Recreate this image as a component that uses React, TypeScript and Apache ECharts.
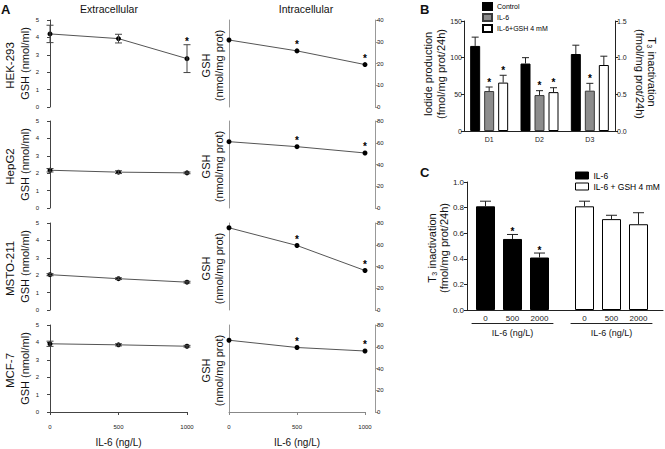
import React, { useEffect, useRef } from "react";
import * as echarts from "echarts";

const FONT = "'Liberation Sans', Arial, Helvetica, sans-serif";

// ---------- Panel A ----------
const doses = [0, 500, 1000];
const cellLines = ["HEK-293", "HepG2", "MSTO-211", "MCF-7"];
const hekExtra = [4.2, 3.93, 2.78];
const hekExtraErr = [0.5, 0.25, 0.8];
const hepExtra = [2.17, 2.06, 2.02];
const hepExtraErr = [0.1, 0.08, 0.05];
const mstoExtra = [2.03, 1.8, 1.6];
const mstoExtraErr = [0.06, 0.05, 0.05];
const mcfExtra = [3.92, 3.86, 3.78];
const mcfExtraErr = [0.15, 0.06, 0.05];
const hekExtraStars = [0, 0, 1];
const noStars = [0, 0, 0];
const hekIntra = [30.8, 25.8, 19.5];
const hepIntra = [61, 56.4, 50.6];
const mstoIntra = [75.6, 59.3, 36.3];
const mcfIntra = [66, 59.3, 56.1];
const intraStars = [0, 1, 1];
const extraMax = 5;
const intraMax = [40, 80, 80, 80];
const intraStep = [10, 20, 20, 20];

// ---------- Panel B ----------
const bCategories = ["D1", "D2", "D3"];
const bNames = ["Control", "IL-6", "IL-6+GSH 4 mM"];
const bControl = [116, 92];
const bControlErr = [12, 8];
const bIL6 = [54.5, 49];
const bIL6Err = [5.5, 6];
const bGSH = [66, 53];
const bGSHErr = [10, 6];
const bStarsD1D2 = [[0, 0], [1, 1], [1, 1]];
const bD3 = [1.05, 0.55, 0.9];
const bD3Err = [0.12, 0.1, 0.12];
const bStarsD3 = [0, 1, 0];

// ---------- Panel C ----------
const cDoses = ["0", "500", "2000"];
const cIL6 = [0.81, 0.555, 0.41];
const cIL6Err = [0.04, 0.035, 0.035];
const cIL6Stars = [0, 1, 1];
const cGSH = [0.81, 0.71, 0.67];
const cGSHErr = [0.04, 0.03, 0.09];
const cGSHStars = [0, 0, 0];

// layout
const rowTops = [20, 121, 223, 325];
const rowH = 87;
const bBarW = 10;
const bBarGap = 4;

const bFill = ["#000000", "#8c8c8c", "#ffffff"];
const bBorder = ["#000000", "#3a3a3a", "#000000"];

function errSeries(xi: number, yi: number, data: any[], o: { cap: number; up: boolean; dx: number; starGap: number; color: string }) {
  return {
    type: "custom",
    xAxisIndex: xi,
    yAxisIndex: yi,
    silent: true,
    z: 5,
    renderItem: (params: any, api: any) => {
      const xv = api.value(0);
      const v = api.value(1);
      const e = api.value(2);
      const s = api.value(3);
      const c = api.coord([xv, v]);
      const x = c[0] + o.dx;
      const hi = api.coord([xv, v + e])[1];
      const lo = o.up ? c[1] : api.coord([xv, v - e])[1];
      const st = { stroke: o.color, lineWidth: 1 };
      const ch: any[] = [];
      if (e > 0) {
        ch.push({ type: "line", shape: { x1: x, y1: hi, x2: x, y2: lo }, style: st });
        ch.push({ type: "line", shape: { x1: x - o.cap, y1: hi, x2: x + o.cap, y2: hi }, style: st });
        if (!o.up) ch.push({ type: "line", shape: { x1: x - o.cap, y1: lo, x2: x + o.cap, y2: lo }, style: st });
      }
      if (s) {
        ch.push({
          type: "text",
          x: x,
          y: hi - o.starGap,
          style: { text: "*", fill: "#000", fontSize: 10, fontWeight: "bold", fontFamily: FONT, textAlign: "center", textVerticalAlign: "middle" },
        });
      }
      return { type: "group", children: ch };
    },
    data,
  };
}

function txt(x: number, y: number, text: string, size: number, rot = 0, extra: any = {}) {
  return {
    type: "text",
    x,
    y,
    rotation: rot,
    silent: true,
    style: { text, fill: "#111", fontSize: size, fontFamily: FONT, textAlign: "center", textVerticalAlign: "middle", ...extra },
  };
}

const plain = (v: number) => String(v);

function buildOption() {
  const grid: any[] = [];
  const xAxis: any[] = [];
  const yAxis: any[] = [];
  const series: any[] = [];
  const graphic: any[] = [];
  const lbl = (size: number, extra: any = {}) => ({ fontSize: size, color: "#222", fontFamily: FONT, ...extra });

  const extraVals = [hekExtra, hepExtra, mstoExtra, mcfExtra];
  const extraErrs = [hekExtraErr, hepExtraErr, mstoExtraErr, mcfExtraErr];
  const extraStars = [hekExtraStars, noStars, noStars, noStars];
  const intraVals = [hekIntra, hepIntra, mstoIntra, mcfIntra];

  for (let i = 0; i < 4; i++) grid.push({ left: 50, top: rowTops[i], width: 137, height: rowH });
  for (let i = 0; i < 4; i++) grid.push({ left: 229, top: rowTops[i], width: 136, height: rowH });
  grid.push({ left: 464, top: 21, width: 151, height: 110 }); // 8 : B
  grid.push({ left: 467, top: 182, width: 196, height: 128 }); // 9 : C frame
  grid.push({ left: 472, top: 182, width: 81, height: 128 }); // 10 : C IL-6
  grid.push({ left: 571, top: 182, width: 81, height: 128 }); // 11 : C GSH

  const doseAxis = (gi: number, show: boolean, color: string) => ({
    type: "value",
    gridIndex: gi,
    min: 0,
    max: 1000,
    interval: 500,
    show,
    position: "bottom",
    offset: 9,
    axisLine: { show: true, lineStyle: { color, width: 1 } },
    axisTick: { show: true, length: 3, lineStyle: { color } },
    axisLabel: { ...lbl(6), margin: 3, formatter: plain },
    splitLine: { show: false },
    name: show ? "IL-6 (ng/L)" : "",
    nameLocation: "middle",
    nameGap: 16,
    nameTextStyle: { fontSize: 10, color: "#111", fontFamily: FONT },
  });
  // x axes 0..7
  for (let i = 0; i < 4; i++) xAxis.push(doseAxis(i, i === 3, "#444"));
  for (let i = 0; i < 4; i++) xAxis.push(doseAxis(4 + i, i === 3, "#888"));
  // x axis 8: B categories
  xAxis.push({
    type: "category",
    gridIndex: 8,
    data: bCategories,
    position: "bottom",
    axisLine: { show: true, lineStyle: { color: "#222" } },
    axisTick: { show: false },
    axisLabel: { ...lbl(7), margin: 5 },
    splitLine: { show: true, interval: (i: number) => i === 2, lineStyle: { color: "#999", type: [1, 2], width: 1 } },
  });
  // x axis 9: B hidden (D3 on right scale)
  xAxis.push({ type: "category", gridIndex: 8, data: bCategories, position: "bottom", show: false });
  // x axis 10: C frame baseline
  xAxis.push({
    type: "value", gridIndex: 9, min: 0, max: 1, position: "bottom",
    axisLine: { show: true, lineStyle: { color: "#222" } },
    axisTick: { show: false }, axisLabel: { show: false }, splitLine: { show: false },
  });
  const cCatAxis = (gi: number) => ({
    type: "category", gridIndex: gi, data: cDoses, position: "bottom",
    axisLine: { show: false }, axisTick: { show: false },
    axisLabel: { ...lbl(8), margin: 4 }, splitLine: { show: false },
  });
  const cUnderAxis = (gi: number) => ({
    type: "category", gridIndex: gi, data: cDoses, position: "bottom", offset: 13,
    axisLine: { show: true, lineStyle: { color: "#222" } }, axisTick: { show: false },
    axisLabel: { show: false }, splitLine: { show: false },
    name: "IL-6 (ng/L)", nameLocation: "middle", nameGap: 5,
    nameTextStyle: { fontSize: 9, color: "#111", fontFamily: FONT, verticalAlign: "top" },
  });
  xAxis.push(cCatAxis(10)); // 11
  xAxis.push(cUnderAxis(10)); // 12
  xAxis.push(cCatAxis(11)); // 13
  xAxis.push(cUnderAxis(11)); // 14

  // y axes 0..3 extracellular
  for (let i = 0; i < 4; i++)
    yAxis.push({
      type: "value", gridIndex: i, min: 0, max: extraMax, interval: 1, offset: 9, position: "left",
      axisLine: { show: true, lineStyle: { color: "#444" } },
      axisTick: { show: true, length: 3, lineStyle: { color: "#444" } },
      axisLabel: { ...lbl(6), margin: 2 }, splitLine: { show: false },
    });
  // y axes 4..7 intracellular left line
  for (let i = 0; i < 4; i++)
    yAxis.push({
      type: "value", gridIndex: 4 + i, min: 0, max: intraMax[i], interval: intraStep[i], position: "left",
      axisLine: { show: true, lineStyle: { color: "#999" } },
      axisTick: { show: false }, axisLabel: { show: false }, splitLine: { show: false },
    });
  // y axes 8..11 intracellular right scale
  for (let i = 0; i < 4; i++)
    yAxis.push({
      type: "value", gridIndex: 4 + i, min: 0, max: intraMax[i], interval: intraStep[i], position: "right", offset: 10,
      axisLine: { show: true, lineStyle: { color: "#999" } },
      axisTick: { show: true, length: 3, lineStyle: { color: "#999" } },
      axisLabel: { ...lbl(6), margin: 2 }, splitLine: { show: false },
    });
  // 12: B left
  yAxis.push({
    type: "value", gridIndex: 8, min: 0, max: 150, interval: 50, position: "left",
    axisLine: { show: true, lineStyle: { color: "#222" } },
    axisTick: { show: true, length: 3, lineStyle: { color: "#222" } },
    axisLabel: { ...lbl(7), margin: 2 }, splitLine: { show: false },
  });
  // 13: B right
  yAxis.push({
    type: "value", gridIndex: 8, min: 0, max: 1.5, interval: 0.5, position: "right",
    axisLine: { show: true, lineStyle: { color: "#222" } },
    axisTick: { show: true, length: 3, lineStyle: { color: "#222" } },
    axisLabel: { ...lbl(7), margin: 2, formatter: (v: number) => v.toFixed(1) }, splitLine: { show: false },
  });
  // 14: C frame
  yAxis.push({
    type: "value", gridIndex: 9, min: 0, max: 1, interval: 0.2, position: "left",
    axisLine: { show: true, lineStyle: { color: "#222" } },
    axisTick: { show: true, length: 3, lineStyle: { color: "#222" } },
    axisLabel: { ...lbl(8), margin: 3, formatter: (v: number) => v.toFixed(1) }, splitLine: { show: false },
  });
  // 15, 16: C bars hidden
  yAxis.push({ type: "value", gridIndex: 10, min: 0, max: 1, show: false });
  yAxis.push({ type: "value", gridIndex: 11, min: 0, max: 1, show: false });

  // ---- A series ----
  for (let i = 0; i < 4; i++) {
    series.push({
      type: "line", xAxisIndex: i, yAxisIndex: i, z: 3,
      data: doses.map((d, j) => [d, extraVals[i][j]]),
      symbol: "circle", symbolSize: 5, itemStyle: { color: "#000" },
      lineStyle: { color: "#555", width: 1 },
    });
    series.push(
      errSeries(i, i, doses.map((d, j) => [d, extraVals[i][j], extraErrs[i][j], extraStars[i][j]]),
        { cap: 3.5, up: false, dx: 0, starGap: 3, color: "#444" })
    );
    series.push({
      type: "line", xAxisIndex: 4 + i, yAxisIndex: 8 + i, z: 3,
      data: doses.map((d, j) => [d, intraVals[i][j]]),
      symbol: "circle", symbolSize: 5, itemStyle: { color: "#000" },
      lineStyle: { color: "#555", width: 1 },
    });
    series.push(
      errSeries(4 + i, 8 + i, doses.map((d, j) => [d, intraVals[i][j], 0, intraStars[j]]),
        { cap: 3, up: false, dx: 0, starGap: 6.5, color: "#444" })
    );
  }

  // ---- B series ----
  const bVals = [bControl, bIL6, bGSH];
  const bErrs = [bControlErr, bIL6Err, bGSHErr];
  for (let k = 0; k < 3; k++) {
    series.push({
      type: "bar", name: bNames[k], xAxisIndex: 8, yAxisIndex: 12,
      barWidth: bBarW, barGap: "40%",
      itemStyle: { color: bFill[k], borderColor: bBorder[k], borderWidth: 1 },
      data: [bVals[k][0], bVals[k][1], "-"],
    });
  }
  for (let k = 0; k < 3; k++) {
    series.push({
      type: "bar", name: bNames[k], xAxisIndex: 9, yAxisIndex: 13,
      barWidth: bBarW, barGap: "40%",
      itemStyle: { color: bFill[k], borderColor: bBorder[k], borderWidth: 1 },
      data: ["-", "-", bD3[k]],
    });
  }
  for (let k = 0; k < 3; k++) {
    const dx = (k - 1) * (bBarW + bBarGap);
    series.push(errSeries(8, 12, [0, 1].map((c) => [c, bVals[k][c], bErrs[k][c], bStarsD1D2[k][c]]),
      { cap: 3.5, up: true, dx, starGap: 5, color: "#222" }));
    series.push(errSeries(9, 13, [[2, bD3[k], bD3Err[k], bStarsD3[k]]],
      { cap: 3.5, up: true, dx, starGap: 5, color: "#222" }));
  }

  // ---- C series ----
  series.push({
    type: "bar", name: "IL-6", xAxisIndex: 11, yAxisIndex: 15, barWidth: 19,
    itemStyle: { color: "#000", borderColor: "#000", borderWidth: 1 }, data: cIL6,
  });
  series.push({
    type: "bar", name: "IL-6 + GSH 4 mM", xAxisIndex: 13, yAxisIndex: 16, barWidth: 19,
    itemStyle: { color: "#fff", borderColor: "#000", borderWidth: 1 }, data: cGSH,
  });
  series.push(errSeries(11, 15, cIL6.map((v, j) => [j, v, cIL6Err[j], cIL6Stars[j]]),
    { cap: 5.5, up: true, dx: 0, starGap: 3, color: "#222" }));
  series.push(errSeries(13, 16, cGSH.map((v, j) => [j, v, cGSHErr[j], cGSHStars[j]]),
    { cap: 5.5, up: true, dx: 0, starGap: 3, color: "#222" }));

  // ---- texts ----
  graphic.push(txt(1, 9, "A", 13, 0, { fontWeight: "bold", textAlign: "left" }));
  graphic.push(txt(420, 9, "B", 13, 0, { fontWeight: "bold", textAlign: "left" }));
  graphic.push(txt(420, 172, "C", 13, 0, { fontWeight: "bold", textAlign: "left" }));
  graphic.push(txt(109, 9, "Extracellular", 10.5));
  graphic.push(txt(306, 9, "Intracellular", 10.5));
  for (let i = 0; i < 4; i++) {
    const yc = rowTops[i] + rowH / 2;
    graphic.push(txt(10, yc + 2, cellLines[i], 11.5, Math.PI / 2));
    graphic.push(txt(25, yc, "GSH (nmol/ml)", 11, Math.PI / 2));
    graphic.push(txt(206, yc + 2, "GSH", 11, Math.PI / 2));
    graphic.push(txt(219, yc + 2, "(nmol/mg prot)", 11, Math.PI / 2));
  }
  graphic.push(txt(428, 74, "Iodide production", 11, Math.PI / 2));
  graphic.push(txt(441, 74, "(fmol/mg prot/24h)", 11, Math.PI / 2));
  graphic.push(txt(652, 72, "T\u2083 inactivation", 11, -Math.PI / 2));
  graphic.push(txt(640, 74, "(fmol/mg prot/24h)", 11, -Math.PI / 2));
  graphic.push(txt(432, 248, "T\u2083 inactivation", 11, Math.PI / 2));
  graphic.push(txt(444, 248, "(fmol/mg prot/24h)", 11, Math.PI / 2));

  const legendText = { fontSize: 7, color: "#000", fontFamily: FONT };
  return {
    animation: false,
    backgroundColor: "#fff",
    textStyle: { fontFamily: FONT },
    grid,
    xAxis,
    yAxis,
    series,
    graphic,
    legend: [
      {
        data: bNames, left: 482, top: 2, orient: "vertical", icon: "rect",
        itemWidth: 9, itemHeight: 7, itemGap: 2, selectedMode: false,
        textStyle: legendText, padding: 0,
      },
      {
        data: [
          { name: "IL-6", itemStyle: { color: "#000", borderColor: "#000", borderWidth: 1 } },
          { name: "IL-6 + GSH 4 mM", itemStyle: { color: "#fff", borderColor: "#000", borderWidth: 1 } },
        ],
        left: 575, top: 171, orient: "vertical", icon: "rect",
        itemWidth: 13, itemHeight: 7, itemGap: 2, selectedMode: false,
        textStyle: { fontSize: 8.5, color: "#000", fontFamily: FONT }, padding: 0,
      },
    ],
  };
}

export default function App() {
  const ref = useRef<HTMLDivElement>(null);
  useEffect(() => {
    if (!ref.current) return;
    const chart = echarts.init(ref.current, undefined, { renderer: "svg" });
    chart.setOption(buildOption() as any);
    return () => chart.dispose();
  }, []);
  return (
    <div
      ref={ref}
      style={{ position: "fixed", left: 0, top: 0, width: 665, height: 449, background: "#fff" }}
    />
  );
}
